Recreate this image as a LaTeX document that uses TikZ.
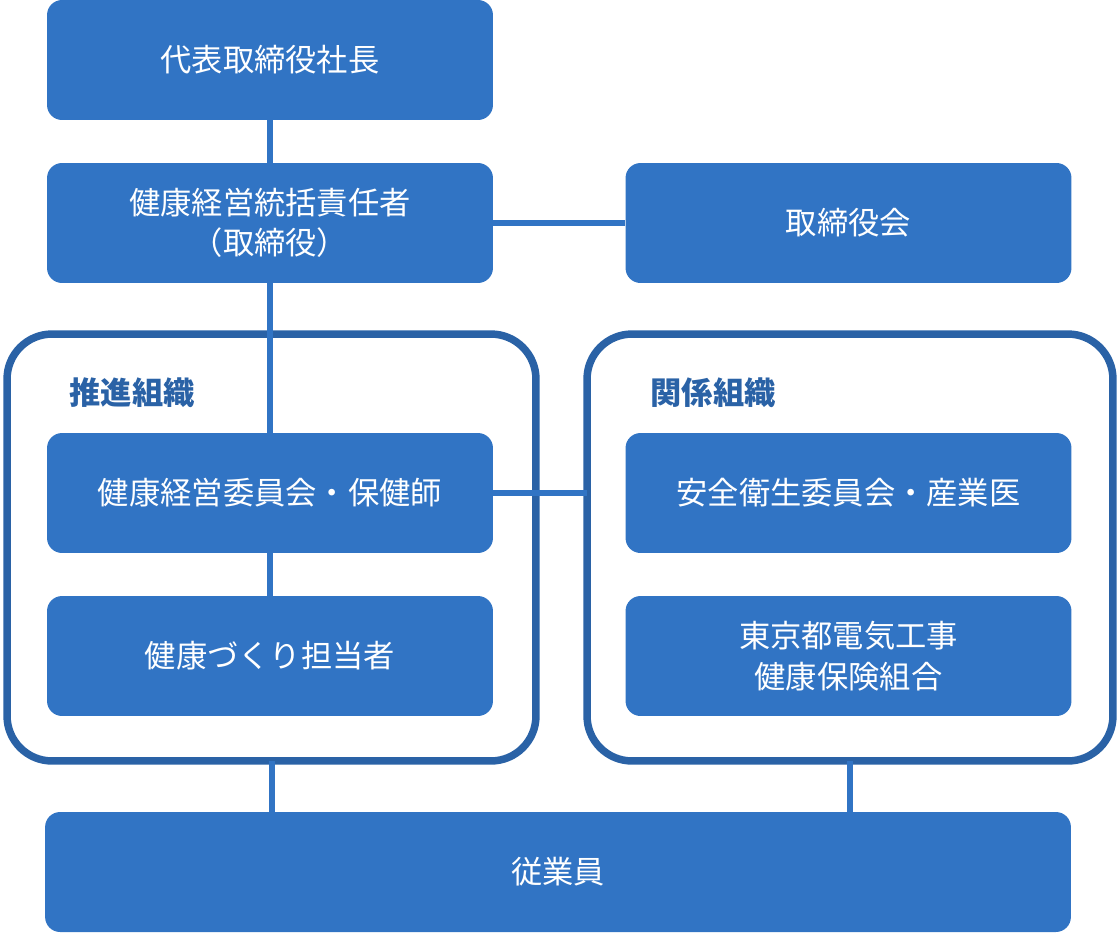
\documentclass[tikz,border=0pt]{standalone}
\usepackage{fontspec}
\newfontfamily\jpfont{Noto Sans CJK JP}
\definecolor{boxblue}{RGB}{49,116,196}
\definecolor{frameblue}{RGB}{42,98,166}
\begin{document}
\begin{tikzpicture}[x=0.02cm, y=-0.02cm, font=\jpfont\fontsize{17.8}{23}\selectfont]
        \tikzset{
            orgbox/.style={fill=boxblue, text=white, rounded corners=0.3cm, minimum width=8.92cm, minimum height=2.4cm, align=center, inner sep=0pt},
            groupframe/.style={draw=frameblue, line width=0.15cm, rounded corners=0.9cm, minimum width=10.58cm, minimum height=8.54cm, inner sep=0pt, outer sep=0pt},
            grouplabel/.style={text=frameblue, font=\jpfont\bfseries\fontsize{17.8}{23}\selectfont},
            link/.style={draw=boxblue, line width=0.12cm}
        }
        \useasboundingbox (0,0) rectangle (1120,934);

        % groups
        \node[groupframe] (promo) at (271.5,547.5) {};
        \node[groupframe, minimum width=10.52cm] (rel) at (850,547.5) {};
        \node[grouplabel] (promolabel) at (132,393) {推進組織};
        \node[grouplabel] (rellabel) at (713,393) {関係組織};

        % boxes
        \node[orgbox] (ceo) at (270,60) {代表取締役社長};
        \node[orgbox] (cho) at (270,223) {健康経営統括責任者\\（取締役）};
        \node[orgbox] (board) at (848.5,223) {取締役会};
        \node[orgbox] (comm) at (270,493) {健康経営委員会・保健師};
        \node[orgbox] (staff) at (270,656) {健康づくり担当者};
        \node[orgbox] (safety) at (848.5,493) {安全衛生委員会・産業医};
        \node[orgbox] (kenpo) at (848.5,656) {東京都電気工事\\健康保険組合};
        \node[orgbox, minimum width=20.52cm] (emp) at (558,872) {従業員};

        % connectors
        \draw[link] (ceo) -- (cho);
        \draw[link] (cho) -- (board);
        \draw[link] (cho) -- (comm);
        \draw[link] (comm) -- (staff);
        \draw[link] (comm.east) -- (comm.east -| rel.west);
        \draw[link] (promo.south) -- (promo.south |- emp.north);
        \draw[link] (rel.south) -- (rel.south |- emp.north);
    \end{tikzpicture}
\end{document}
